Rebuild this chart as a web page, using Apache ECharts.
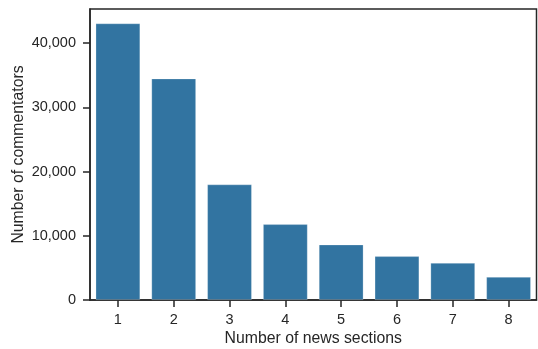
<!DOCTYPE html>
<html>
<head>
<meta charset="utf-8">
<script src="https://cdn.jsdelivr.net/npm/echarts@6/dist/echarts.min.js"></script>
<style>
html,body{margin:0;padding:0;background:#fff;}
#chart{width:538px;height:349px;}
</style>
</head>
<body>
<div id="chart"></div>
<script>
const categories = ['1','2','3','4','5','6','7','8'];
const commentators = [43060, 34480, 17990, 11800, 8630, 6820, 5770, 3590];

const chart = echarts.init(document.getElementById('chart'), null, {renderer:'canvas'});
const font = 'Liberation Sans, Arial, sans-serif';
const ink = '#262626';
chart.setOption({
  animation: false,
  backgroundColor: '#ffffff',
  grid: {left: 90, right: 1.5, top: 9, bottom: 49, show: true, borderColor: ink, borderWidth: 1.5,
    containLabel: false, outerBoundsMode: 'none'},
  xAxis: {
    type: 'category',
    data: categories,
    name: 'Number of news sections',
    nameLocation: 'middle',
    nameGap: 31,
    nameMoveOverlap: false,
    nameTextStyle: {fontFamily: font, fontSize: 15.8, color: ink},
    axisLine: {show: true, lineStyle: {color: ink, width: 1.5}},
    axisTick: {show: true, alignWithLabel: true, length: 7, lineStyle: {color: ink, width: 1.5}},
    axisLabel: {fontFamily: font, fontSize: 14.5, color: ink, margin: 12}
  },
  yAxis: {
    type: 'value',
    min: 0,
    max: 45300,
    interval: 10000,
    name: 'Number of commentators',
    nameLocation: 'middle',
    nameGap: 63,
    nameMoveOverlap: false,
    nameTextStyle: {fontFamily: font, fontSize: 15.8, color: ink},
    splitLine: {show: false},
    axisLine: {show: true, lineStyle: {color: ink, width: 1.5}},
    axisTick: {show: true, length: 7, lineStyle: {color: ink, width: 1.5}},
    axisLabel: {fontFamily: font, fontSize: 14.5, color: ink, margin: 14, showMaxLabel: false,
      formatter: v => Number(v).toLocaleString('en-US')}
  },
  series: [{
    type: 'bar',
    data: commentators,
    barCategoryGap: '20%',
    itemStyle: {color: '#3274a1', borderColor: 'rgba(255,255,255,0.3)', borderWidth: 0.8}
  }]
});
</script>
</body>
</html>
